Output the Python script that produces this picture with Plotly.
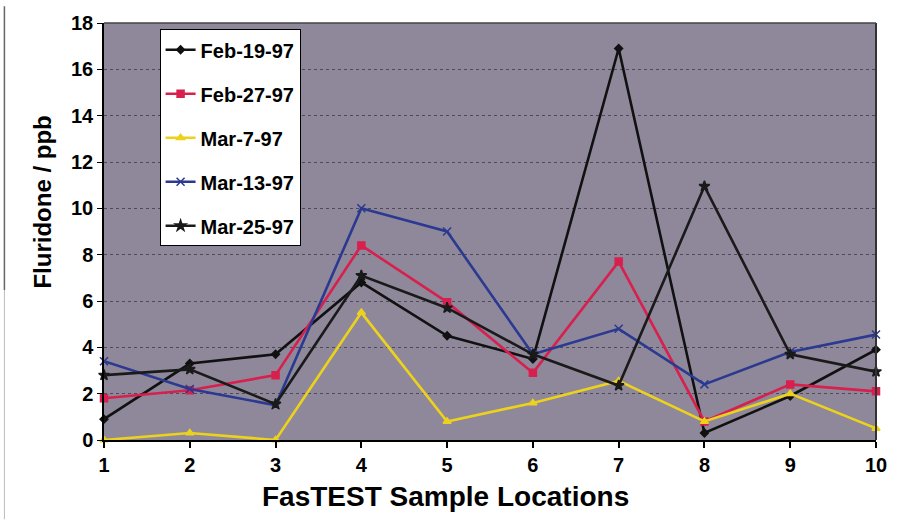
import plotly.graph_objects as go

locations = [1, 2, 3, 4, 5, 6, 7, 8, 9, 10]
series_names = ["Feb-19-97", "Feb-27-97", "Mar-7-97", "Mar-13-97", "Mar-25-97"]
feb19 = [0.9, 3.3, 3.7, 6.8, 4.5, 3.5, 16.9, 0.3, 1.9, 3.9]
feb27 = [1.8, 2.15, 2.8, 8.4, 5.95, 2.9, 7.7, 0.8, 2.4, 2.1]
mar7 = [0.0, 0.3, 0.0, 5.5, 0.8, 1.6, 2.55, 0.8, 2.0, 0.5]
mar13 = [3.4, 2.2, 1.5, 10.0, 9.0, 3.7, 4.8, 2.4, 3.8, 4.55]
mar25 = [2.8, 3.05, 1.55, 7.1, 5.7, 3.7, 2.35, 10.95, 3.7, 2.95]
y_ticks = [0, 2, 4, 6, 8, 10, 12, 14, 16, 18]

values = [feb19, feb27, mar7, mar13, mar25]
colors = ["#111111", "#d8204f", "#ecd21c", "#2b3990", "#1a1a1a"]
symbols = ["diamond", "square", "triangle-up", "x-thin", "star"]
msizes = [6, 7, 7, 8, 8]

fig = go.Figure()
for i, (name, vals) in enumerate(zip(series_names, values)):
    fig.add_trace(go.Scatter(
        x=locations, y=vals, name=name, mode="lines+markers",
        legendgroup=name,
        line=dict(color=colors[i], width=2.6),
        marker=dict(symbol=symbols[i], size=msizes[i], color=colors[i],
                    line=dict(color=colors[i], width=1.5)),
        cliponaxis=False,
    ))

fig.update_layout(
    width=903, height=520,
    margin=dict(l=104, r=27, t=17, b=80),
    paper_bgcolor="white",
    plot_bgcolor="#8e889a",
    font=dict(family="Liberation Sans, Arial, sans-serif", color="black"),
    showlegend=True,
    legend=dict(
        x=0.072, y=0.985, xanchor="left", yanchor="top",
        bgcolor="white", bordercolor="black", borderwidth=1,
        font=dict(size=20, family="Liberation Sans, Arial, sans-serif", color="black", weight="bold"),
        traceorder="grouped", tracegroupgap=15, itemwidth=30,
    ),
    xaxis=dict(
        range=[1, 10], tickmode="array", tickvals=locations,
        ticktext=[str(v) for v in locations],
        ticks="outside", ticklen=6, tickcolor="black", tickwidth=1.5,
        showline=True, linecolor="black", linewidth=2,
        showgrid=False, zeroline=False,
        tickfont=dict(size=20, weight="bold"),
    ),
    yaxis=dict(
        range=[0, 18], tickmode="array", tickvals=y_ticks,
        ticks="outside", ticklen=5, tickcolor="black",
        showline=True, linecolor="black", linewidth=1.5,
        showgrid=True, gridcolor="#4e4a55", griddash="dot", gridwidth=1,
        zeroline=False,
        tickfont=dict(size=20, weight="bold"),
    ),
    annotations=[
        dict(text="FasTEST Sample Locations", xref="paper", yref="paper",
             x=0.442, y=-0.135, xanchor="center", yanchor="middle", showarrow=False,
             font=dict(size=28, weight="bold", color="black")),
        dict(text="Fluridone / ppb", xref="paper", yref="paper", textangle=-90,
             x=-0.08, y=0.57, xanchor="center", yanchor="middle", showarrow=False,
             font=dict(size=24, weight="bold", color="black")),
    ],
    shapes=[
        dict(type="line", xref="paper", yref="paper", x0=1, x1=1, y0=0, y1=1,
             line=dict(color="#333333", width=2)),
        dict(type="line", xref="paper", yref="paper", x0=0, x1=1, y0=1, y1=1,
             line=dict(color="#444444", width=1.5)),
        dict(type="line", xref="paper", yref="paper", x0=-0.129, x1=-0.129, y0=0.36, y1=1.04,
             line=dict(color="#666666", width=1.5)),
        dict(type="line", xref="paper", yref="paper", x0=-0.129, x1=-0.129, y0=-0.19, y1=0.36,
             line=dict(color="#bbbbbb", width=1)),
    ],
)

fig.write_html("out.html")
